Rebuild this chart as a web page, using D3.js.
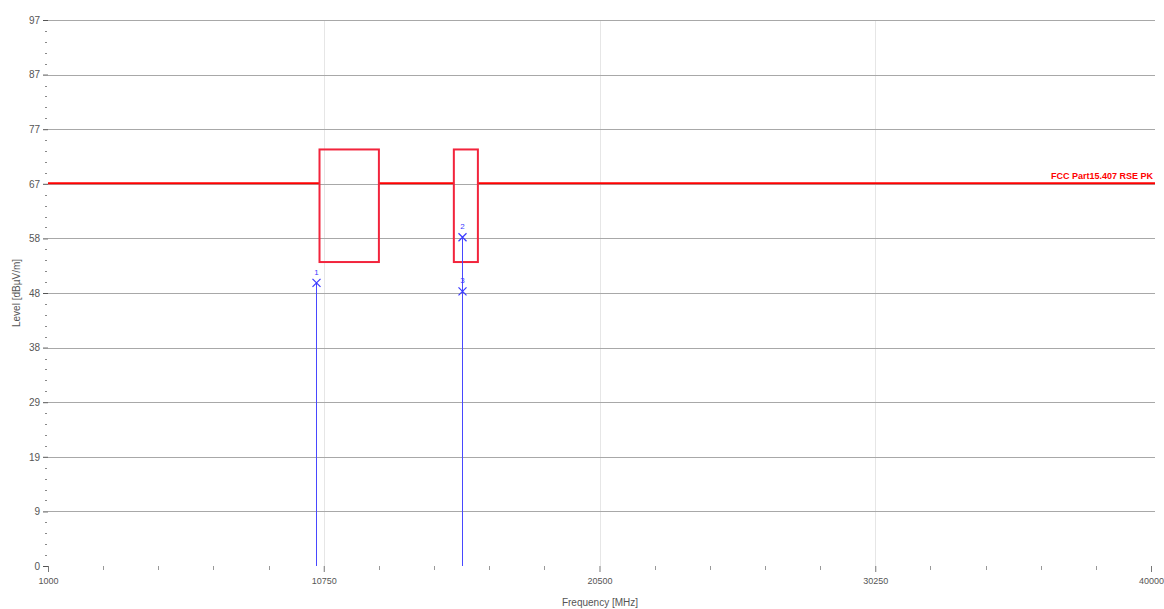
<!DOCTYPE html>
<html>
<head>
<meta charset="utf-8">
<script src="https://cdn.jsdelivr.net/npm/d3@7"></script>
<style>
  html, body { margin: 0; padding: 0; background: #fff; }
  svg { display: block; font-family: "Liberation Sans", "DejaVu Sans", sans-serif; }
</style>
</head>
<body>
<svg id="chart" width="1164" height="609"></svg>
<script>
// ---------- data ----------
const xDomain = [1000, 40000];
const yDomain = [0, 97];
const xTickValues = [1000, 10750, 20500, 30250, 40000];
const xTickLabels = ["1000", "10750", "20500", "30250", "40000"];
const yTickValues = [0, 9.7, 19.4, 29.1, 38.8, 48.5, 58.2, 67.9, 77.6, 87.3, 97];
const yTickLabels = ["0", "9", "19", "29", "38", "48", "58", "67", "77", "87", "97"];
const limitLevel = 68.0;                 // FCC Part15.407 limit (dBµV/m)
const limitName = "FCC Part15.407 RSE PK";
const bandStart = [10600, 15350];        // restricted bands (MHz)
const bandEnd = [12700, 16200];
const bandPeak = [74, 74];
const bandAvg = [54, 54];
const markerNames = ["1", "2", "3"];
const markerFreq = [10470, 15650, 15650];
const markerLevel = [50.3, 58.4, 48.8];
const xTitle = "Frequency [MHz]";
const yTitle = "Level [dBµV/m]";

// ---------- layout ----------
const svg = d3.select("#chart");
const mLeft = 48, mRight = 1151, mTop = 20, mBottom = 566, gridRight = 1155;
const x = d3.scaleLinear().domain(xDomain).range([mLeft, mRight]);
const y = d3.scaleLinear().domain(yDomain).range([mBottom, mTop]);

svg.append("rect").attr("width", 1164).attr("height", 609).attr("fill", "#fff");

// vertical grid (faint)
svg.append("g").selectAll("line")
  .data(xTickValues.slice(1, -1))
  .join("line")
  .attr("x1", d => Math.round(x(d)) + 0.5).attr("x2", d => Math.round(x(d)) + 0.5)
  .attr("y1", y(yDomain[1])).attr("y2", y(0))
  .attr("stroke", "#e6e6e6").attr("stroke-width", 1);

// horizontal grid
svg.append("g").selectAll("line")
  .data(yTickValues.slice(1))
  .join("line")
  .attr("x1", mLeft).attr("x2", gridRight)
  .attr("y1", d => Math.round(y(d)) + 0.5).attr("y2", d => Math.round(y(d)) + 0.5)
  .attr("stroke", "#a8a8a8").attr("stroke-width", 1);

// y axis: major + minor ticks
const yMinor = [];
for (let i = 0; i < yTickValues.length - 1; i++) {
  const a = yTickValues[i], b = yTickValues[i + 1];
  for (let k = 1; k < 5; k++) yMinor.push(a + (b - a) * k / 5);
}
const yAxis = svg.append("g").attr("transform", `translate(${mLeft},0)`);
yAxis.call(d3.axisLeft(y).tickValues(yTickValues).tickSize(5)
  .tickFormat((d, i) => yTickLabels[i]));
yAxis.select(".domain").remove();
yAxis.selectAll(".tick line").attr("stroke", "#555");
yAxis.selectAll(".tick text").attr("fill", "#555").attr("font-size", 10)
  .attr("font-family", "Liberation Sans, sans-serif").attr("x", -8);
svg.append("g").selectAll("line").data(yMinor).join("line")
  .attr("x1", mLeft - 3).attr("x2", mLeft - 1)
  .attr("y1", d => Math.round(y(d)) + 0.5).attr("y2", d => Math.round(y(d)) + 0.5)
  .attr("stroke", "#888").attr("stroke-width", 1);

// x axis: major + minor ticks
const xMinor = [];
for (let i = 0; i < xTickValues.length - 1; i++) {
  const a = xTickValues[i], b = xTickValues[i + 1];
  for (let k = 1; k < 5; k++) xMinor.push(a + (b - a) * k / 5);
}
const xAxis = svg.append("g").attr("transform", `translate(0,${mBottom})`);
xAxis.call(d3.axisBottom(x).tickValues(xTickValues).tickSize(6)
  .tickFormat((d, i) => xTickLabels[i]));
xAxis.select(".domain").remove();
xAxis.selectAll(".tick line").attr("stroke", "#777");
xAxis.selectAll(".tick text").attr("fill", "#555").attr("font-size", 9)
  .attr("font-family", "Liberation Sans, sans-serif").attr("y", 12);
svg.append("g").selectAll("line").data(xMinor).join("line")
  .attr("x1", d => Math.round(x(d)) + 0.5).attr("x2", d => Math.round(x(d)) + 0.5)
  .attr("y1", mBottom).attr("y2", mBottom + 4)
  .attr("stroke", "#999").attr("stroke-width", 1);

// titles
svg.append("text").attr("x", 600).attr("y", 606).attr("text-anchor", "middle")
  .attr("font-size", 10).attr("fill", "#555").text(xTitle);
svg.append("text").attr("transform", "translate(20,293) rotate(-90)")
  .attr("text-anchor", "middle").attr("font-size", 10).attr("fill", "#555").text(yTitle);

// limit line segments outside restricted bands
const limitSegs = [];
let s = xDomain[0];
bandStart.forEach((b, i) => { limitSegs.push([s, b]); s = bandEnd[i]; });
limitSegs.push([s, xDomain[1]]);
svg.append("g").selectAll("line").data(limitSegs).join("line")
  .attr("x1", d => x(d[0])).attr("x2", d => d[1] === xDomain[1] ? gridRight : x(d[1]))
  .attr("y1", y(limitLevel)).attr("y2", y(limitLevel))
  .attr("stroke", "#ff0000").attr("stroke-width", 2);

// restricted-band boxes
svg.append("g").selectAll("rect").data(bandStart).join("rect")
  .attr("x", (d, i) => x(d))
  .attr("y", (d, i) => y(bandPeak[i]))
  .attr("width", (d, i) => x(bandEnd[i]) - x(d))
  .attr("height", (d, i) => y(bandAvg[i]) - y(bandPeak[i]))
  .attr("fill", "none").attr("stroke", "#f2243c").attr("stroke-width", 2);

// limit label
svg.append("text").attr("x", 1153).attr("y", y(limitLevel) - 4)
  .attr("text-anchor", "end").attr("font-size", 9).attr("font-weight", "bold")
  .attr("fill", "#ff0000").text(limitName);

// spectrum peaks: a vertical line from 0 up to each marker
const peaks = svg.append("g");
markerFreq.forEach((f, i) => {
  const px = Math.round(x(f)) + 0.5;
  peaks.append("path")
    .attr("d", d3.line()([[px, y(0)], [px, y(markerLevel[i])]]))
    .style("stroke", "#4848ff").style("stroke-width", "1px").style("fill", "none");
});

// markers
const mk = svg.append("g").selectAll("g").data(markerFreq).join("g")
  .attr("transform", (d, i) => `translate(${Math.round(x(d)) + 0.5},${y(markerLevel[i])})`);
mk.append("path").attr("d", "M-4,-4L4,4M-4,4L4,-4")
  .attr("stroke", "#3a3aff").attr("stroke-width", 1.2).attr("fill", "none");
mk.append("text").attr("y", -8).attr("text-anchor", "middle")
  .attr("font-size", 8).attr("fill", "#3a3aff").text((d, i) => markerNames[i]);
</script>
</body>
</html>
